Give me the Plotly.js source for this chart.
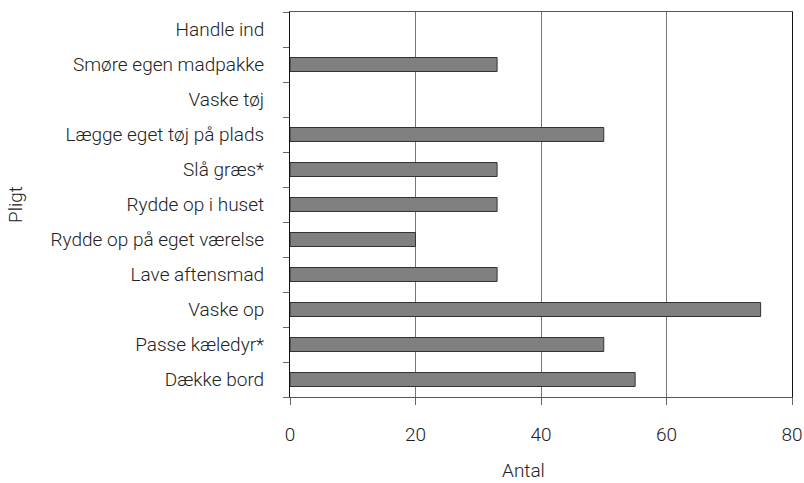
<!DOCTYPE html>
<html>
<head>
<meta charset="utf-8">
<script src="https://cdn.plot.ly/plotly-3.0.1.min.js"></script>
<style>html,body{margin:0;padding:0;background:#fff;}#chart{width:804px;height:483px;}</style>
</head>
<body>
<div id="chart"></div>
<script>
const categories = ["Dække bord","Passe kæledyr*","Vaske op","Lave aftensmad","Rydde op på eget værelse","Rydde op i huset","Slå græs*","Lægge eget tøj på plads","Vaske tøj","Smøre egen madpakke","Handle ind"];
const values = [55, 50, 75, 33, 20, 33, 33, 50, 0, 33, 0];
const xTicks = [0, 20, 40, 60, 80];
const xTitle = "Antal";
const yTitle = "Pligt";

const fontFam = "Roboto, 'DejaVu Sans', sans-serif";
const fs = 19;
const data = [{
  type: "bar",
  orientation: "h",
  y: categories,
  x: values,
  marker: {color: "#808080", line: {color: "#333333", width: values.map(v => v > 0 ? 1 : 0)}},
  hoverinfo: "x+y"
}];
const layout = {
  width: 804, height: 483,
  margin: {l: 290, r: 12, t: 12, b: 86},
  paper_bgcolor: "#ffffff", plot_bgcolor: "#ffffff",
  font: {family: fontFam, size: fs, color: "#222222", weight: 300},
  bargap: 0.6,
  showlegend: false,
  xaxis: {
    range: [0, 80], tickvals: xTicks, ticktext: xTicks.map(String),
    showgrid: true, gridcolor: "#777777", gridwidth: 1,
    zeroline: false,
    showline: true, linecolor: "#555555", linewidth: 1, mirror: true,
    ticks: "outside", ticklen: 7, tickcolor: "#666666",
    ticklabelstandoff: 13,
    tickfont: {family: fontFam, size: fs, color: "#222222", weight: 300},
    fixedrange: true
  },
  yaxis: {
    type: "category",
    tickson: "boundaries",
    showgrid: false, zeroline: false,
    showline: true, linecolor: "#111111", linewidth: 1, mirror: true,
    ticks: "outside", ticklen: 6, tickcolor: "#666666",
    ticklabelstandoff: 21,
    tickfont: {family: fontFam, size: fs, color: "#222222", weight: 300},
    title: {text: yTitle, font: {family: fontFam, size: fs, color: "#222222", weight: 300}, standoff: 22},
    fixedrange: true
  },
  annotations: [{
    text: xTitle, xref: "paper", yref: "paper",
    x: 0.466, y: -0.19, yanchor: "middle", xanchor: "center",
    showarrow: false, font: {family: fontFam, size: fs, color: "#222222", weight: 300}
  }]
};
Plotly.newPlot("chart", data, layout, {displayModeBar: false, staticPlot: true});
</script>
</body>
</html>
